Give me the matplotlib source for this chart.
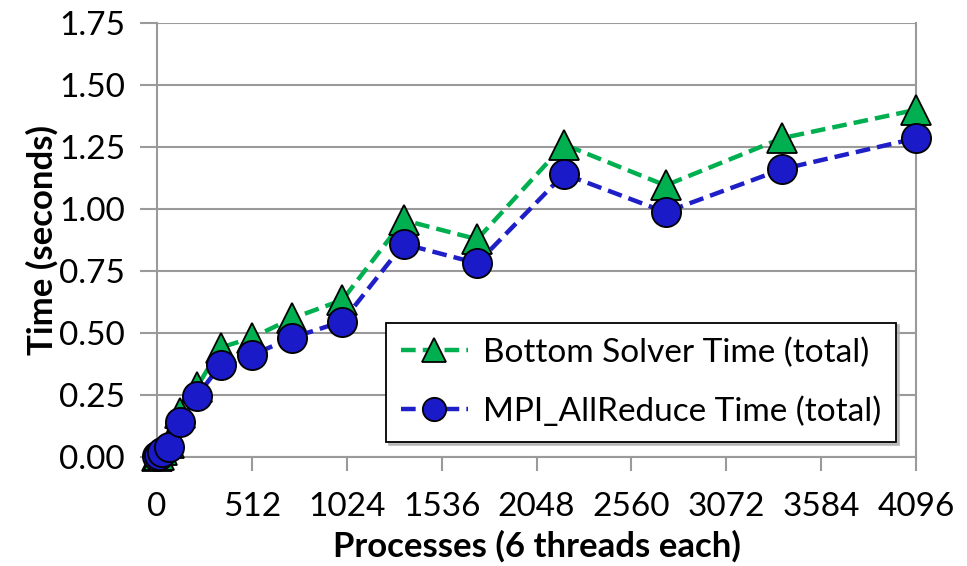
import matplotlib
matplotlib.use("Agg")
import matplotlib.pyplot as plt
from matplotlib.ticker import FixedLocator

# Process counts (cubes) and measured times in seconds
processes = [1, 8, 27, 64, 125, 216, 343, 512, 729, 1000, 1331, 1728, 2197, 2744, 3375, 4096]
bottom_solver = [0.003, 0.01, 0.03, 0.055, 0.176, 0.283, 0.441, 0.481, 0.559, 0.633,
                 0.955, 0.878, 1.26, 1.095, 1.286, 1.40]
allreduce = [0.003, 0.008, 0.021, 0.042, 0.14, 0.246, 0.371, 0.411, 0.481, 0.546,
             0.859, 0.781, 1.141, 0.987, 1.161, 1.285]

x_ticks = [0, 512, 1024, 1536, 2048, 2560, 3072, 3584, 4096]
y_ticks = [0.00, 0.25, 0.50, 0.75, 1.00, 1.25, 1.50, 1.75]

plt.rcParams['font.family'] = ['Lato', 'DejaVu Sans']

fig = plt.figure(figsize=(9.67, 5.66), dpi=100)
ax = fig.add_axes([0.1624, 0.1926, 0.7849, 0.7668])

green = '#00B050'
blue = '#1F1FC8'

ax.plot(processes, bottom_solver, linestyle=(0, (3.3, 1.6)), linewidth=3.2, color=green,
        marker='^', markersize=21, markerfacecolor=green, markeredgecolor='black',
        markeredgewidth=1.3, clip_on=False, zorder=3,
        label='Bottom Solver Time (total)')
ax.plot(processes, allreduce, linestyle=(0, (3.3, 1.6)), linewidth=3.2, color=blue,
        marker='o', markersize=21, markerfacecolor='#1A1AC8', markeredgecolor='black',
        markeredgewidth=1.3, clip_on=False, zorder=4,
        label='MPI_AllReduce Time (total)')

ax.set_xlim(0, 4096)
ax.set_ylim(0, 1.75)
ax.xaxis.set_major_locator(FixedLocator(x_ticks))
ax.yaxis.set_major_locator(FixedLocator(y_ticks))
ax.set_xticklabels([str(v) for v in x_ticks])
ax.set_yticklabels([f'{v:.2f}' for v in y_ticks])

grid_color = '#9A9A9A'
ax.grid(axis='y', color=grid_color, linewidth=1.5, zorder=0)
ax.set_axisbelow(True)
for side in ['left', 'bottom', 'right']:
    ax.spines[side].set_color(grid_color)
    ax.spines[side].set_linewidth(1.5)
ax.spines['top'].set_visible(False)

ax.tick_params(axis='both', direction='out', color=grid_color, width=1.5,
               labelsize=24, labelcolor='black')
ax.tick_params(axis='y', length=12, pad=11)
ax.tick_params(axis='x', length=10, pad=15)

ax.set_xlabel('Processes (6 threads each)', fontsize=25, fontweight='bold', labelpad=6)
ax.set_ylabel('Time (seconds)', fontsize=25, fontweight='bold', labelpad=0)

leg = ax.legend(loc='lower right', bbox_to_anchor=(0.9737, 0.0346), fontsize=24,
                frameon=True, fancybox=False, shadow={'color': '#B0B0B0', 'alpha': 0.8},
                edgecolor='black', framealpha=1, handlelength=2.0, markerscale=0.8,
                borderpad=0.45, labelspacing=0.85, handletextpad=0.45, borderaxespad=0)
leg.get_frame().set_linewidth(1.3)
leg.set_zorder(5)

fig.savefig('out.png', dpi=100)
